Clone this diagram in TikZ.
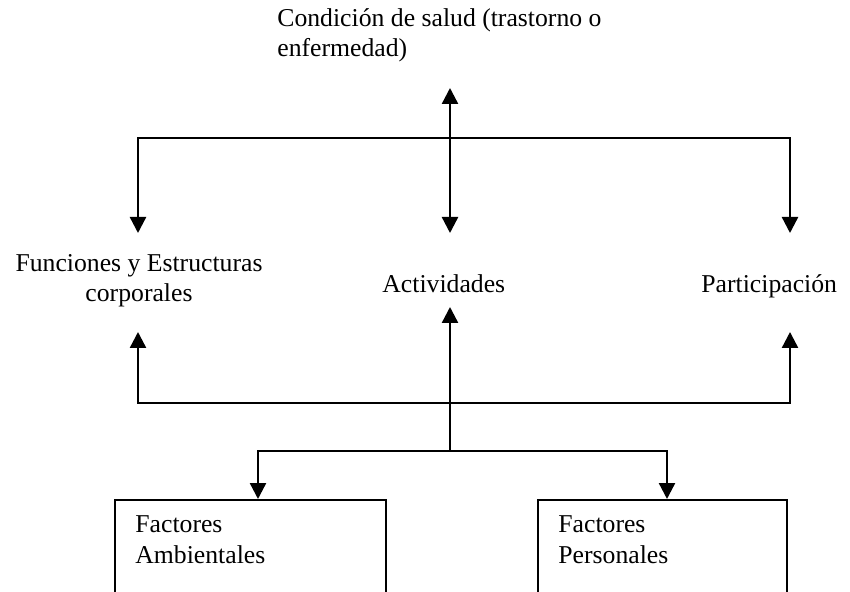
\documentclass[tikz,border=0pt]{standalone}
\usepackage{fontspec}
\setmainfont{Liberation Serif}
\usetikzlibrary{arrows.meta}
\begin{document}
\begin{tikzpicture}[x=0.5pt,y=-0.5pt,
  conn/.style={line width=1.2pt},
  tip/.style={-{Triangle[length=8pt,width=8pt]}},
  both/.style={{Triangle[length=8pt,width=8pt]}-{Triangle[length=8pt,width=8pt]}},
  lbl/.style={inner sep=0pt, font=\fontsize{12.85}{15.4}\selectfont},
  box/.style={draw, line width=1.2pt, rectangle, inner sep=0pt, anchor=north west, minimum height=60.5pt}]
\useasboundingbox (0,0) rectangle (850,592);
\clip (0,0) rectangle (850,592);
% text (base anchor = baseline of last line)
\node[lbl, anchor=base west, align=left] (title) at (277,57) {Condición de salud (trastorno o\\enfermedad)};
\node[lbl, anchor=base, align=center] (fun) at (139,302) {Funciones y Estructuras\\corporales};
\node[lbl, anchor=base west] (act) at (382,293) {Actividades};
\node[lbl, anchor=base west] (par) at (701,293) {Participación};
% boxes
\node[box, minimum width=135.5pt] (boxA) at (114,499) {};
\node[box, minimum width=124.5pt] (boxP) at (537,499) {};
\node[lbl, anchor=base west, align=left] (txtA) at (135,563) {Factores\\Ambientales};
\node[lbl, anchor=base west, align=left] (txtP) at (558,563) {Factores\\Personales};
% junction coordinates
\coordinate (tTop) at (450,88);
\coordinate (jL) at (138,138);
\coordinate (jR) at (790,138);
\coordinate (fTip) at (138,233);
\coordinate (pTip) at (790,233);
\coordinate (aTip) at (450,233);
\coordinate (fUp) at (138,332);
\coordinate (pUp) at (790,332);
\coordinate (aUp) at (450,307);
\coordinate (bL) at (138,403);
\coordinate (bR) at (790,403);
\coordinate (lM) at (450,451);
\coordinate (lL) at (258,451);
\coordinate (lR) at (667,451);
% connectors
\draw[conn, both] (tTop) -- (aTip);
\draw[conn, both] (fTip) -- (jL) -- (jR) -- (pTip);
\draw[conn, both] (fUp) -- (bL) -- (bR) -- (pUp);
\draw[conn, tip] (lM) -- (aUp);
\draw[conn, both] (lL |- boxA.north) -- (lL) -- (lR) -- (lR |- boxP.north);
\end{tikzpicture}
\end{document}
